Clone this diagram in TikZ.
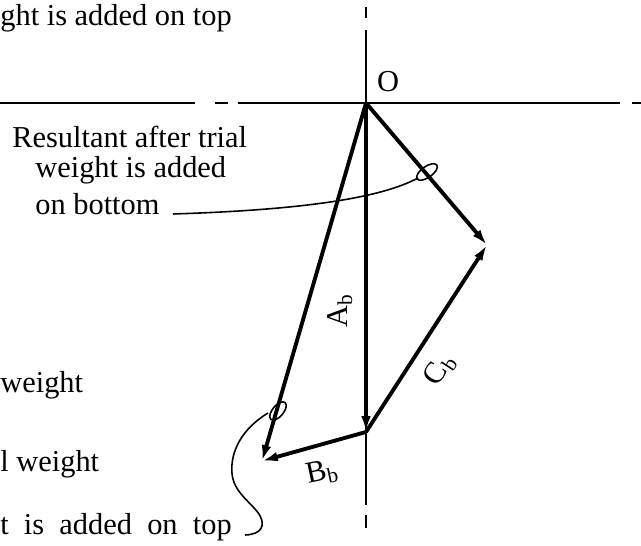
\documentclass[tikz,border=0pt]{standalone}
\usepackage{fontspec}
\setmainfont{Liberation Serif}
\usepackage{tikz}
\usetikzlibrary{positioning, calc, arrows.meta}

\begin{document}
\begin{tikzpicture}[
    font=\fontsize{17.3}{20}\selectfont,
    axis/.style={line width=1.1pt},
    vec/.style={line width=2.2pt, -{Latex[length=9pt,width=5.5pt]}},
    leader/.style={line width=0.9pt},
    txt/.style={anchor=base west, inner sep=0pt},
    lbl/.style={inner sep=0pt}]
  \useasboundingbox (0,0) rectangle (12.82,10.92);

  % AXES (broken with dashes near the ends)
  \draw[axis] (0,8.86) -- (3.90,8.86);
  \draw[axis] (4.30,8.86) -- (4.56,8.86);
  \draw[axis] (4.76,8.86) -- (12.40,8.86);
  \draw[axis] (12.64,8.86) -- (12.82,8.86);
  \draw[axis] (7.32,10.78) -- (7.32,10.56);
  \draw[axis] (7.32,10.32) -- (7.32,0.82);
  \draw[axis] (7.32,0.62) -- (7.32,0.36);

  % vector points
  \coordinate (O) at (7.32,8.86);
  \coordinate (Ab) at (7.32,2.28);
  \coordinate (R1) at (9.74,6.02);
  \coordinate (R2) at (5.24,1.70);
  \node[lbl] (o) at (7.76,9.28) {O};

  % vectors
  \draw[vec] (O) -- (Ab);
  \draw[vec] (Ab) -- (R1);
  \draw[vec] (Ab) -- (R2);
  \draw[vec] (O) -- (R1);
  \draw[vec] (O) -- (R2);

  % vector labels
  \node[lbl, rotate=90] (labA) at (6.80,4.70) {A\textsubscript{b}};
  \node[lbl, rotate=57] (labC) at (8.80,3.52) {C\textsubscript{b}};
  \node[lbl, rotate=12] (labB) at (6.44,1.46) {B\textsubscript{b}};

  % loops on the resultants
  \draw[leader, rotate around={35:(8.54,7.48)}] (8.54,7.48) ellipse (0.24 and 0.11);
  \draw[leader, rotate around={50:(5.56,2.70)}] (5.56,2.70) ellipse (0.22 and 0.11);

  % text lines
  \foreach \x/\y/\t [count=\i] in {%
    0/10.40/ght is added on top,
    0.24/7.96/Resultant after trial,
    0.70/7.36/weight is added,
    0.70/6.62/on bottom,
    0/3.06/weight,
    0/1.48/l weight}
    \node[txt] (t\i) at (\x,\y) {\t};
  \node[txt] (t7) at (0,0.22) {\spaceskip=0.5em t is added on top};

  % leaders
  \coordinate (l1) at (3.46,6.64);
  \coordinate (e1) at (8.36,7.36);
  \draw[leader] (l1) .. controls (6.0,6.72) and (7.6,6.95) .. (e1);
  \coordinate (e2) at (5.36,2.66);
  \coordinate (l2) at (4.90,0.22);
  \draw[leader] (e2) .. controls (4.85,2.35) and (4.6,1.9) .. (4.64,1.45)
    .. controls (4.68,0.95) and (5.3,0.75) .. (5.24,0.40)
    .. controls (5.2,0.25) and (5.0,0.22) .. (l2);
\end{tikzpicture}
\end{document}
